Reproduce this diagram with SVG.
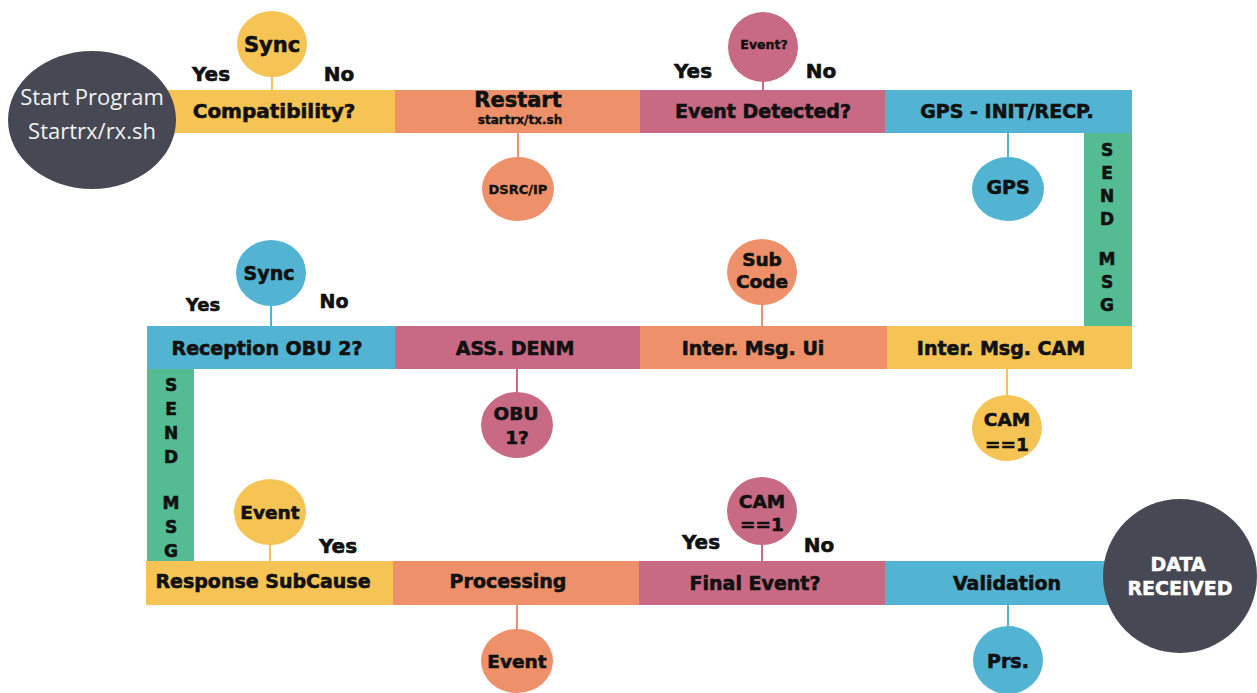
<svg xmlns="http://www.w3.org/2000/svg" width="1257" height="693" viewBox="0 0 1257 693">
<style>
.y{fill:#f5c454}.o{fill:#ee916a}.p{fill:#c86a84}.b{fill:#52b4d2}.g{fill:#55bb92}.d{fill:#464853}
.t{font-family:"DejaVu Sans",sans-serif;font-weight:bold;fill:#111;stroke:#111;stroke-width:0.6;text-anchor:middle}
.l{font-size:19px}.yn{font-size:20px}.c{font-size:18.5px}.v{font-size:17px}
.w{font-family:"Open Sans","Liberation Sans",sans-serif;font-size:22px;fill:#f2f2f2;text-anchor:middle}
.wb{font-family:"DejaVu Sans",sans-serif;font-weight:bold;font-size:19px;fill:#fff;stroke:#fff;stroke-width:0.5;text-anchor:middle}
.sy{stroke:#f5c454}.so{stroke:#ee916a}.sp{stroke:#c86a84}.sb{stroke:#52b4d2}
#connectors line{stroke-width:2}
</style>
<rect width="1257" height="693" fill="#fff"/>

<g id="connectors">
<line class="sy" x1="272" y1="76" x2="272" y2="91"/>
<line class="so" x1="518" y1="132" x2="518" y2="158"/>
<line class="sp" x1="763" y1="81" x2="763" y2="91"/>
<line class="sb" x1="1008" y1="132" x2="1008" y2="158"/>
<line class="sb" x1="271" y1="305" x2="271" y2="327"/>
<line class="sp" x1="517" y1="368" x2="517" y2="394"/>
<line class="so" x1="762" y1="304" x2="762" y2="327"/>
<line class="sy" x1="1007" y1="368" x2="1007" y2="396"/>
<line class="sy" x1="270" y1="544" x2="270" y2="562"/>
<line class="so" x1="517" y1="604" x2="517" y2="630"/>
<line class="sp" x1="762" y1="544" x2="762" y2="562"/>
<line class="sb" x1="1008" y1="604" x2="1008" y2="626"/>
</g>

<!-- Row 1 bands -->
<g id="compatibility"><rect class="y" x="160" y="90" width="235" height="43"/><text class="t" x="274" y="118" style="font-size:20px">Compatibility?</text></g>
<g id="restart"><rect class="o" x="395" y="90" width="245" height="43"/><text class="t" x="518" y="107" style="font-size:21px">Restart</text><text class="t" x="520" y="124" style="font-size:12px;stroke-width:0.4">startrx/tx.sh</text></g>
<g id="event-detected"><rect class="p" x="640" y="90" width="245" height="43"/><text class="t l" x="763" y="118">Event Detected?</text></g>
<g id="gps-init"><rect class="b" x="885" y="90" width="247" height="43"/><text class="t l" x="1007" y="118">GPS - INIT/RECP.</text></g>
<g id="send-msg-1"><rect class="g" x="1084" y="133" width="48" height="193"/>
<text class="t v" x="1107" y="156">S</text><text class="t v" x="1107" y="179">E</text><text class="t v" x="1107" y="202">N</text><text class="t v" x="1107" y="225">D</text>
<text class="t v" x="1107" y="265">M</text><text class="t v" x="1107" y="288">S</text><text class="t v" x="1107" y="311">G</text></g>

<!-- Row 2 bands -->
<g id="reception-obu2"><rect class="b" x="147" y="326" width="248" height="43"/><text class="t l" x="267" y="355">Reception OBU 2?</text></g>
<g id="ass-denm"><rect class="p" x="395" y="326" width="245" height="43"/><text class="t l" x="515" y="355">ASS. DENM</text></g>
<g id="inter-msg-ui"><rect class="o" x="640" y="326" width="247" height="43"/><text class="t l" x="753" y="355">Inter. Msg. Ui</text></g>
<g id="inter-msg-cam"><rect class="y" x="887" y="326" width="245" height="43"/><text class="t l" x="1001" y="355">Inter. Msg. CAM</text></g>
<g id="send-msg-2"><rect class="g" x="147" y="369" width="47" height="192"/>
<text class="t v" x="171" y="391">S</text><text class="t v" x="171" y="415">E</text><text class="t v" x="171" y="439">N</text><text class="t v" x="171" y="463">D</text>
<text class="t v" x="171" y="509">M</text><text class="t v" x="171" y="533">S</text><text class="t v" x="171" y="557">G</text></g>

<!-- Row 3 bands -->
<g id="response-subcause"><rect class="y" x="146" y="561" width="247" height="44"/><text class="t l" x="263" y="588">Response SubCause</text></g>
<g id="processing"><rect class="o" x="393" y="561" width="246" height="44"/><text class="t l" x="508" y="588">Processing</text></g>
<g id="final-event"><rect class="p" x="639" y="561" width="246" height="44"/><text class="t l" x="755" y="590">Final Event?</text></g>
<g id="validation"><rect class="b" x="885" y="561" width="245" height="44"/><text class="t l" x="1007" y="590">Validation</text></g>

<!-- Terminals -->
<g id="start"><ellipse class="d" cx="92" cy="120" rx="84" ry="69"/><text class="w" x="92" y="105">Start Program</text><text class="w" x="92" y="139">Startrx/rx.sh</text></g>
<g id="data-received"><circle class="d" cx="1180" cy="576" r="77"/><text class="wb" x="1178" y="571">DATA</text><text class="wb" x="1180" y="595">RECEIVED</text></g>

<!-- Circles row 1 -->
<g id="sync-1"><ellipse class="y" cx="272" cy="44" rx="35" ry="33"/><text class="t" x="272" y="52" style="font-size:21px">Sync</text>
<text class="t yn" x="211" y="81">Yes</text><text class="t yn" x="339" y="81">No</text></g>
<g id="dsrc-ip"><ellipse class="o" cx="518" cy="189" rx="36" ry="32"/><text class="t" x="518" y="194" style="font-size:13px;stroke-width:0.4">DSRC/IP</text></g>
<g id="event-q"><ellipse class="p" cx="763" cy="47" rx="35" ry="35"/><text class="t" x="764" y="49" style="font-size:12.5px;stroke-width:0.4">Event?</text>
<text class="t yn" x="693" y="78">Yes</text><text class="t yn" x="821" y="78">No</text></g>
<g id="gps"><ellipse class="b" cx="1008" cy="189" rx="36" ry="32"/><text class="t" x="1008" y="194" style="font-size:19px">GPS</text></g>

<!-- Circles row 2 -->
<g id="sync-2"><ellipse class="b" cx="271" cy="273" rx="35" ry="33"/><text class="t" x="269" y="280" style="font-size:19px">Sync</text>
<text class="t" x="203" y="311" style="font-size:18px">Yes</text><text class="t" x="334" y="308" style="font-size:19px">No</text></g>
<g id="obu1"><ellipse class="p" cx="517" cy="425" rx="36" ry="33"/><text class="t c" x="516" y="420">OBU</text><text class="t c" x="517" y="444">1?</text></g>
<g id="sub-code"><ellipse class="o" cx="762" cy="272" rx="35" ry="33"/><text class="t c" x="762" y="266">Sub</text><text class="t c" x="762" y="288">Code</text></g>
<g id="cam-1"><ellipse class="y" cx="1007" cy="428" rx="35" ry="33"/><text class="t c" x="1007" y="426">CAM</text><text class="t c" x="1007" y="451">==1</text></g>

<!-- Circles row 3 -->
<g id="event-top"><ellipse class="y" cx="270" cy="512" rx="36" ry="33"/><text class="t c" x="270" y="519">Event</text>
<text class="t yn" x="338" y="553">Yes</text></g>
<g id="event-bottom"><ellipse class="o" cx="517" cy="661" rx="36" ry="32"/><text class="t c" x="517" y="668">Event</text></g>
<g id="cam-2"><ellipse class="p" cx="762" cy="511" rx="35" ry="34"/><text class="t c" x="762" y="508">CAM</text><text class="t c" x="762" y="531">==1</text>
<text class="t yn" x="701" y="549">Yes</text><text class="t yn" x="819" y="552">No</text></g>
<g id="prs"><ellipse class="b" cx="1008" cy="660" rx="35" ry="34"/><text class="t" x="1008" y="668" style="font-size:19px">Prs.</text></g>
</svg>
